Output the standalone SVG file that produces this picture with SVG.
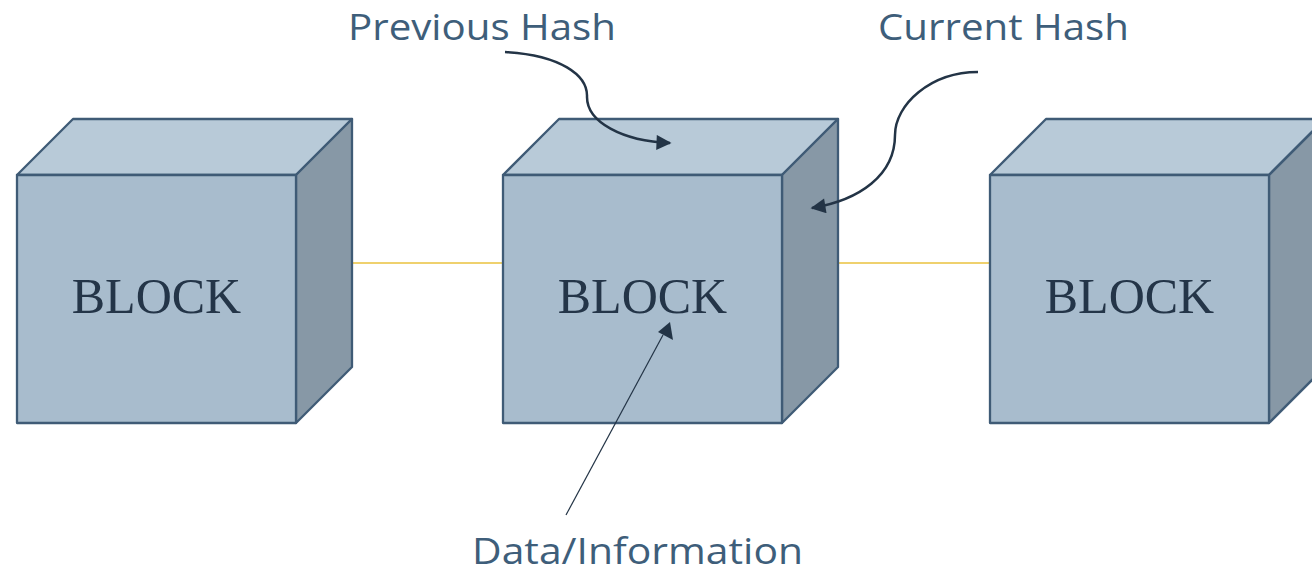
<svg xmlns="http://www.w3.org/2000/svg" width="1312" height="577" viewBox="0 0 1312 577">
  <style>
    .top { fill: #B8CAD8; stroke: #3F5B76; stroke-width: 2.3; stroke-linejoin: round; }
    .front { fill: #A8BCCD; stroke: #3F5B76; stroke-width: 2.3; stroke-linejoin: round; }
    .side { fill: #8798A6; stroke: #3F5B76; stroke-width: 2.3; stroke-linejoin: round; }
    .blk { font-family: "Liberation Serif", "DejaVu Serif", serif; font-size: 50px; fill: #243548; text-anchor: middle; }
    .lbl { font-family: "Open Sans", "Liberation Sans", sans-serif; font-size: 37px; fill: #3E5E7A; }
    .link { stroke: #EAC23E; stroke-width: 1.5; fill: none; }
    .ptr { stroke: #233446; stroke-width: 2.5; fill: none; marker-end: url(#head); }
    .thin { stroke: #233446; stroke-width: 1.2; fill: none; }
  </style>
  <defs>
    <marker id="head" viewBox="0 0 10 10" refX="9" refY="5" markerWidth="6.5" markerHeight="6" markerUnits="strokeWidth" orient="auto">
      <path d="M0,0 L10,5 L0,10 Z" fill="#233446"/>
    </marker>
    <!-- one cube, front face at origin -->
    <g id="cube">
      <path class="top" d="M0,0 L56,-56 L335,-56 L279,0 Z"/>
      <path class="side" d="M279,0 L335,-56 L335,192 L279,248 Z"/>
      <rect class="front" x="0" y="0" width="279" height="248"/>
      <text class="blk" x="139.5" y="138">BLOCK</text>
    </g>
  </defs>

  <!-- chain links between blocks -->
  <g id="connectors">
    <line class="link" x1="352" y1="263" x2="503" y2="263"/>
    <line class="link" x1="838" y1="263" x2="990" y2="263"/>
  </g>

  <g id="block1"><use href="#cube" x="17" y="175"/></g>
  <g id="block2"><use href="#cube" x="503" y="175"/></g>
  <g id="block3"><use href="#cube" x="990" y="175"/></g>

  <!-- annotations -->
  <g id="previous-hash">
    <text class="lbl" x="348" y="40" textLength="268" lengthAdjust="spacingAndGlyphs">Previous Hash</text>
    <path class="ptr" d="M505,52 C560,55 588,75 587,97 C587,122 622,141 670,143"/>
  </g>
  <g id="current-hash">
    <text class="lbl" x="878" y="40" textLength="251" lengthAdjust="spacingAndGlyphs">Current Hash</text>
    <path class="ptr" d="M978,72 C930,72 895,105 895,135 C895,175 860,200 812,208"/>
  </g>
  <g id="data-info">
    <text class="lbl" x="472" y="564" textLength="331" lengthAdjust="spacingAndGlyphs">Data/Information</text>
    <line class="thin" x1="566" y1="515" x2="663" y2="335"/>
    <path d="M670,322 L673,340 L658,332 Z" fill="#233446"/>
  </g>
</svg>
